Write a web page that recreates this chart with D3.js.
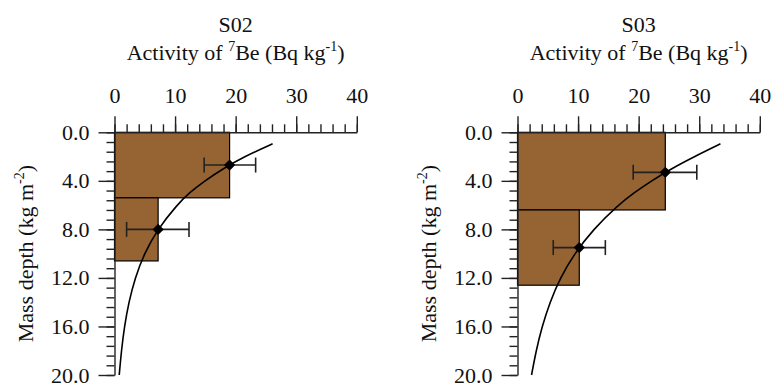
<!DOCTYPE html>
<html>
<head>
<meta charset="utf-8">
<script src="https://cdn.jsdelivr.net/npm/d3@7"></script>
<style>
  body { margin: 0; background: #fff; }
  svg { display: block; font-family: "Liberation Serif", "Times New Roman", serif; }
</style>
</head>
<body>
<div id="chart"></div>
<script>
// 7Be activity vs mass depth, two sites side by side

const sites = ["S02", "S03"];

// sampled layers: depth range (kg m-2) and mean activity (Bq kg-1)
const layerTop = [[0, 5.4], [0, 6.4]];
const layerBottom = [[5.4, 10.6], [6.4, 12.6]];
const layerActivity = [[19.0, 7.2], [24.4, 10.2]];

// measured points with error bars
const pointDepth = [[2.7, 8.0], [3.3, 9.5]];
const pointActivity = [[19.0, 7.2], [24.4, 10.2]];
const errLow = [[14.8, 2.0], [19.1, 5.9]];
const errHigh = [[23.3, 12.3], [29.6, 14.5]];

// fitted profile
const fitDepth = [0.95, 2, 3, 4, 5, 6, 8, 10, 12, 14, 16, 18, 20];
const fitActivity = [
    [26.1, 21.4, 17.9, 14.9, 12.3, 10.3, 7.1, 4.9, 3.39, 2.36, 1.64, 1.14, 0.78],
    [33.5, 29.2, 25.4, 22.1, 19.2, 16.6, 12.5, 9.4, 7.05, 5.35, 4.05, 3.07, 2.32]
];

const activityTicks = [0, 10, 20, 30, 40];
const depthTicks = [0, 4, 8, 12, 16, 20];
const activityMinor = d3.range(0, 40.01, 2);
const depthMinor = d3.range(0, 20.01, 0.8);

const width = 771, height = 383;
const plotW = 242.3, plotTop = 132.3, plotBottom = 375;
const panelLeft = [114.5, 517.5];
const serif = "'Liberation Serif', 'Times New Roman', serif";

const svg = d3.select("#chart")
    .append("svg")
    .attr("width", width)
    .attr("height", height)
    .attr("viewBox", [0, 0, width, height]);

const y = d3.scaleLinear().domain([0, 20]).range([plotTop, plotBottom]);

sites.forEach((site, i) => {
    const left = panelLeft[i];
    const x = d3.scaleLinear().domain([0, 40]).range([left, left + plotW]);

    const g = svg.append("g");

    // bars for each layer
    g.selectAll(".layer")
        .data(layerActivity[i])
        .join("rect")
        .attr("class", "layer")
        .attr("x", x(0))
        .attr("y", (d, j) => y(layerTop[i][j]))
        .attr("width", d => x(d) - x(0))
        .attr("height", (d, j) => y(layerBottom[i][j]) - y(layerTop[i][j]))
        .attr("fill", "#966333")
        .attr("stroke", "#000")
        .attr("stroke-width", 1.2);

    // fitted curve
    const fit = fitDepth.map((dp, j) => [fitActivity[i][j], dp]);
    g.append("path")
        .datum(fit)
        .attr("fill", "none")
        .attr("stroke", "#000")
        .attr("stroke-width", 1.6)
        .attr("d", d3.line()
            .x(d => x(d[0]))
            .y(d => y(d[1]))
            .curve(d3.curveBasis));

    // error bars
    const pts = pointDepth[i].map((dp, j) => ({
        depth: dp, act: pointActivity[i][j], lo: errLow[i][j], hi: errHigh[i][j]
    }));
    const err = g.selectAll(".err").data(pts).join("g").attr("class", "err")
        .attr("stroke", "#222").attr("stroke-width", 1.6);
    err.append("line")
        .attr("x1", d => x(d.lo)).attr("x2", d => x(d.hi))
        .attr("y1", d => y(d.depth)).attr("y2", d => y(d.depth));
    err.append("line")
        .attr("x1", d => x(d.lo)).attr("x2", d => x(d.lo))
        .attr("y1", d => y(d.depth) - 7.5).attr("y2", d => y(d.depth) + 7.5);
    err.append("line")
        .attr("x1", d => x(d.hi)).attr("x2", d => x(d.hi))
        .attr("y1", d => y(d.depth) - 7.5).attr("y2", d => y(d.depth) + 7.5);

    // diamond markers
    g.selectAll(".pt").data(pts).join("path")
        .attr("class", "pt")
        .attr("transform", d => `translate(${x(d.act)},${y(d.depth)}) rotate(45)`)
        .attr("d", d3.symbol(d3.symbolSquare, 64))
        .attr("fill", "#000");

    // top axis: minor ticks, then major with labels
    g.append("g")
        .attr("transform", `translate(0,${plotTop})`)
        .call(d3.axisTop(x).tickValues(activityMinor).tickSize(8).tickSizeOuter(0).tickFormat(""))
        .call(a => a.select(".domain").remove());
    g.append("g")
        .attr("class", "major")
        .attr("transform", `translate(0,${plotTop})`)
        .call(d3.axisTop(x).tickValues(activityTicks).tickSize(16).tickSizeOuter(0).tickPadding(13));

    // left axis
    g.append("g")
        .attr("transform", `translate(${left},0)`)
        .call(d3.axisLeft(y).tickValues(depthMinor).tickSize(8).tickSizeOuter(0).tickFormat(""))
        .call(a => a.select(".domain").remove());
    g.append("g")
        .attr("class", "major")
        .attr("transform", `translate(${left},0)`)
        .call(d3.axisLeft(y).tickValues(depthTicks).tickSize(16).tickSizeOuter(0).tickPadding(9).tickFormat(d3.format(".1f")));

    g.selectAll(".tick line, .domain").attr("stroke", "#222").attr("stroke-width", 1.4);
    g.selectAll(".major .tick text")
        .style("font-family", serif)
        .style("font-size", "22px")
        .attr("fill", "#111");

    // titles
    const cx = left + plotW / 2;
    g.append("text")
        .attr("x", cx).attr("y", 32)
        .attr("text-anchor", "middle")
        .style("font-family", serif)
        .attr("font-size", 22)
        .attr("fill", "#111")
        .text(site);
    const t = g.append("text")
        .attr("x", cx).attr("y", 60)
        .attr("text-anchor", "middle")
        .style("font-family", serif)
        .attr("font-size", 22)
        .attr("fill", "#111");
    t.append("tspan").text("Activity of ");
    t.append("tspan").attr("font-size", 14).attr("dy", -9).text("7");
    t.append("tspan").attr("dy", 9).text("Be (Bq kg");
    t.append("tspan").attr("font-size", 14).attr("dy", -9).text("-1");
    t.append("tspan").attr("dy", 9).text(")");

    // y label
    const yl = g.append("text")
        .attr("transform", `translate(${left - 82},${(plotTop + plotBottom) / 2}) rotate(-90)`)
        .attr("text-anchor", "middle")
        .style("font-family", serif)
        .attr("font-size", 22)
        .attr("fill", "#111");
    yl.append("tspan").text("Mass depth (kg m");
    yl.append("tspan").attr("font-size", 14).attr("dy", -9).text("-2");
    yl.append("tspan").attr("dy", 9).text(")");
});
</script>
</body>
</html>
